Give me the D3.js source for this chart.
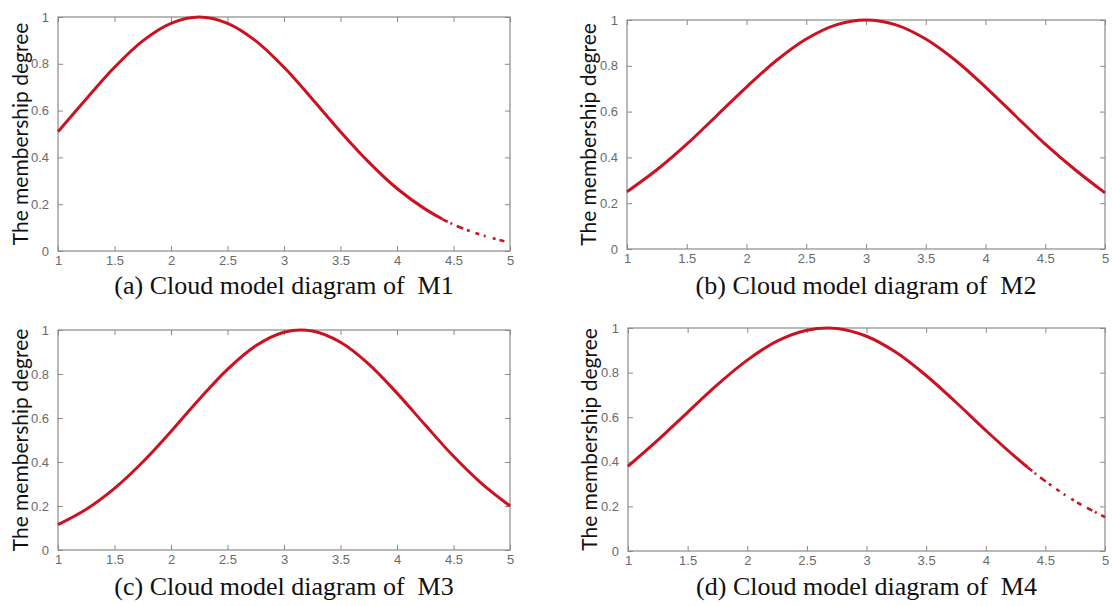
<!DOCTYPE html>
<html>
<head>
<meta charset="utf-8">
<script src="https://cdn.jsdelivr.net/npm/d3@7"></script>
<style>
  html, body { margin: 0; padding: 0; background: #fff; }
  svg { display: block; }
</style>
</head>
<body>
<svg id="chart"></svg>
<script>
const xValues = [1, 1.25, 1.5, 1.75, 2, 2.25, 2.5, 2.75, 3, 3.25, 3.5, 3.75, 4, 4.25, 4.5, 4.75, 5];

// membership degree
const m1Values = [0.51, 0.65, 0.785, 0.898, 0.973, 1.0, 0.973, 0.898, 0.785, 0.65, 0.51, 0.38, 0.267, 0.179, 0.113, 0.068, 0.036];
const m2Values = [0.25, 0.346, 0.458, 0.582, 0.707, 0.823, 0.917, 0.979, 1.0, 0.979, 0.917, 0.823, 0.707, 0.582, 0.458, 0.346, 0.245];
const m3Values = [0.115, 0.185, 0.28, 0.4, 0.539, 0.685, 0.821, 0.928, 0.99, 0.995, 0.944, 0.845, 0.713, 0.568, 0.426, 0.302, 0.2];
const m4Values = [0.38, 0.497, 0.622, 0.746, 0.856, 0.941, 0.99, 0.998, 0.963, 0.89, 0.787, 0.667, 0.541, 0.421, 0.313, 0.223, 0.152];

const xTicks = [1, 1.5, 2, 2.5, 3, 3.5, 4, 4.5, 5];
const yTicks = [0, 0.2, 0.4, 0.6, 0.8, 1];
const yLabel = "The membership degree";
const captions = [
    "(a) Cloud model diagram of  M1",
    "(b) Cloud model diagram of  M2",
    "(c) Cloud model diagram of  M3",
    "(d) Cloud model diagram of  M4"
];

const width = 1112, height = 606;

const svg = d3.select("#chart")
    .attr("width", width)
    .attr("height", height);

// plot box of every panel (left, right, top, bottom) + where the sparse tail starts
const panels = [
    { values: m1Values, caption: captions[0], left: 58, right: 510, top: 17, bottom: 251, labelX: 19, capY: 294, sparseFrom: 4.4 },
    { values: m2Values, caption: captions[1], left: 627, right: 1105, top: 20, bottom: 249, labelX: 587, capY: 294, sparseFrom: null },
    { values: m3Values, caption: captions[2], left: 58, right: 510, top: 330, bottom: 550, labelX: 19, capY: 595, sparseFrom: null },
    { values: m4Values, caption: captions[3], left: 628, right: 1105, top: 328, bottom: 551, labelX: 588, capY: 595, sparseFrom: 4.35 }
];

const boxColor = "#8a8a8a";
const tickText = "#6a6a6a";
const lineColor = "#cc1220";

panels.forEach(p => {
    const x = d3.scaleLinear().domain([1, 5]).range([p.left, p.right]);
    const y = d3.scaleLinear().domain([0, 1]).range([p.bottom, p.top]);
    const g = svg.append("g");

    // axes, ticks pointing inward like matlab
    const bottomAxis = g.append("g")
        .attr("transform", `translate(0,${p.bottom})`)
        .call(d3.axisBottom(x).tickValues(xTicks).tickSize(-5).tickPadding(5).tickFormat(d => String(d)));
    const topAxis = g.append("g")
        .attr("transform", `translate(0,${p.top})`)
        .call(d3.axisTop(x).tickValues(xTicks).tickSize(-5).tickFormat(""));
    const leftAxis = g.append("g")
        .attr("transform", `translate(${p.left},0)`)
        .call(d3.axisLeft(y).tickValues(yTicks).tickSize(-5).tickPadding(9).tickFormat(d => String(d)));
    const rightAxis = g.append("g")
        .attr("transform", `translate(${p.right},0)`)
        .call(d3.axisRight(y).tickValues(yTicks).tickSize(-5).tickFormat(""));

    [bottomAxis, topAxis, leftAxis, rightAxis].forEach(a => {
        a.select(".domain").remove();
        a.selectAll(".tick line").attr("stroke", boxColor);
        a.selectAll(".tick text")
            .attr("fill", tickText)
            .attr("font-family", "Liberation Sans, Arial, sans-serif")
            .attr("font-size", 13);
    });

    g.append("rect")
        .attr("x", p.left)
        .attr("y", p.top)
        .attr("width", p.right - p.left)
        .attr("height", p.bottom - p.top)
        .attr("fill", "none")
        .attr("stroke", boxColor)
        .attr("stroke-width", 1.2);

    const points = xValues.map((d, i) => [d, p.values[i]]);
    const line = d3.line()
        .x(d => x(d[0]))
        .y(d => y(d[1]))
        .curve(d3.curveCatmullRom);

    const body = g.append("path")
        .datum(points)
        .attr("d", line)
        .attr("fill", "none")
        .attr("stroke", lineColor)
        .attr("stroke-width", 3);

    if (p.sparseFrom !== null) {
        // solid body, then the scattered drops of the tail
        const node = body.node();
        const total = node.getTotalLength();
        let lo = 0, hi = total;
        for (let k = 0; k < 30; k++) {
            const mid = (lo + hi) / 2;
            if (node.getPointAtLength(mid).x < x(p.sparseFrom)) lo = mid; else hi = mid;
        }
        body.attr("stroke-dasharray", `${lo} ${total}`);

        const drops = [6, 3, 2, 5, 7, 4, 3, 6, 4, 5, 2, 7, 3, 4, 5, 6];
        const dash = [0, lo];
        let covered = 0, i = 0;
        while (covered < total - lo + 20) {
            dash.push(drops[i % drops.length]);
            covered += drops[i % drops.length];
            i++;
        }
        if (dash.length % 2 === 1) dash.push(total);
        else dash.push(0, total);
        g.append("path")
            .datum(points)
            .attr("d", line)
            .attr("fill", "none")
            .attr("stroke", lineColor)
            .attr("stroke-width", 2.6)
            .attr("stroke-dasharray", dash.join(" "));
    }

    // y axis title
    g.append("text")
        .attr("transform", `translate(${p.labelX},${(p.top + p.bottom) / 2}) rotate(-90)`)
        .attr("text-anchor", "middle")
        .attr("dominant-baseline", "central")
        .attr("font-family", "Lato, Carlito, sans-serif")
        .attr("font-size", 21)
        .attr("fill", "#111")
        .text(yLabel);

    // caption under the panel
    g.append("text")
        .attr("x", (p.left + p.right) / 2)
        .attr("y", p.capY)
        .attr("text-anchor", "middle")
        .attr("font-family", "Liberation Serif, Times New Roman, serif")
        .attr("font-size", 26)
        .attr("fill", "#111")
        .style("white-space", "pre")
        .text(p.caption);
});
</script>
</body>
</html>
